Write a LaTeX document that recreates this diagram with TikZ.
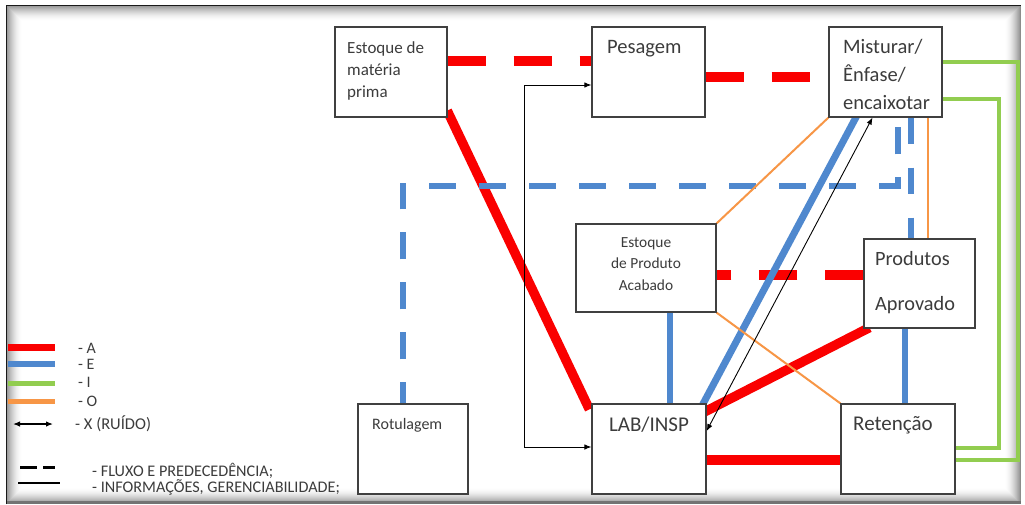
\documentclass[tikz,border=0pt]{standalone}
\usepackage{fontspec}
\setmainfont{Carlito}
\usetikzlibrary{calc,arrows.meta}
\definecolor{cA}{RGB}{250,0,0}
\definecolor{cE}{RGB}{79,136,206}
\definecolor{cI}{RGB}{146,205,80}
\definecolor{cO}{RGB}{247,150,70}
\definecolor{txt}{RGB}{60,60,60}
\pgfdeclarelayer{frame}
\pgfdeclarelayer{links}
\pgfsetlayers{frame,links,main}
\newcommand{\fs}[1]{\fontsize{#1}{#1}\selectfont}
\begin{document}
\begin{tikzpicture}[x=1pt,y=-1pt,
  box/.style={draw=black!75,line width=1.2pt,fill=white,inner sep=0pt},
  lbl/.style={inner sep=0pt,text=txt},
  lA/.style={cA,line width=9.5pt},
  lAd/.style={lA,dash pattern=on 38pt off 28pt},
  lE/.style={cE,line width=6pt},
  lEd/.style={lE,dash pattern=on 27pt off 23pt,dash phase=6pt},
  lI/.style={cI,line width=4pt},
  lO/.style={cO,line width=2pt},
  tip/.style={{Latex[length=7pt,width=5.5pt]}-{Latex[length=7pt,width=5.5pt]}},
  lX/.style={black,line width=0.9pt,tip}]
\useasboundingbox (0,0) rectangle (1025,504);

% boxes
\node[box,minimum width=112pt,minimum height=90pt] (mp)  at (391,72) {};
\node[box,minimum width=113pt,minimum height=90pt] (pes) at (648.5,72) {};
\node[box,minimum width=113pt,minimum height=90pt] (mis) at (885.5,72) {};
\node[box,minimum width=140pt,minimum height=88pt] (epa) at (646,268) {};
\node[box,minimum width=111pt,minimum height=89pt] (pa)  at (919.5,283.5) {};
\node[box,minimum width=110pt,minimum height=90pt] (rot) at (413,449) {};
\node[box,minimum width=114pt,minimum height=90pt] (lab) at (649,449) {};
\node[box,minimum width=114pt,minimum height=90pt] (ret) at (898,449) {};

% box texts
\node[lbl,font=\fs{17},anchor=base west] (mp1) at (347,53) {Estoque de};
\node[lbl,font=\fs{17},anchor=base west] (mp2) at (347,75) {matéria};
\node[lbl,font=\fs{17},anchor=base west] (mp3) at (347,97) {prima};
\node[lbl,font=\fs{20.5},anchor=base west] (pes1) at (607,53) {Pesagem};
\node[lbl,font=\fs{20.5},anchor=base west] (mis1) at (843,53) {Misturar/};
\node[lbl,font=\fs{20.5},anchor=base west] (mis2) at (843,81) {Ênfase/};
\node[lbl,font=\fs{20.5},anchor=base west] (mis3) at (843,109) {encaixotar};
\node[lbl,font=\fs{15.4},anchor=base] (epa1) at (646,247) {Estoque};
\node[lbl,font=\fs{15.4},anchor=base] (epa2) at (646,268) {de Produto};
\node[lbl,font=\fs{15.4},anchor=base] (epa3) at (646,290) {Acabado};
\node[lbl,font=\fs{20.3},anchor=base west] (pa1) at (875,265) {Produtos};
\node[lbl,font=\fs{20.3},anchor=base west] (pa2) at (875,310) {Aprovado};
\node[lbl,font=\fs{16},anchor=base west] (rot1) at (372,429) {Rotulagem};
\node[lbl,font=\fs{21},anchor=base] (lab1) at (649,431) {LAB/INSP};
\node[lbl,font=\fs{21},anchor=base west] (ret1) at (853,430) {Retenção};

% legend texts
\node[lbl,font=\fs{16},anchor=base west] (lg1) at (78,353) {- A};
\node[lbl,font=\fs{16},anchor=base west] (lg2) at (78,369) {- E};
\node[lbl,font=\fs{16},anchor=base west] (lg3) at (78,387) {- I};
\node[lbl,font=\fs{16},anchor=base west] (lg4) at (78,406) {- O};
\node[lbl,font=\fs{16.5},anchor=base west] (lg5) at (75,429) {- X (RUÍDO)};
\node[lbl,font=\fs{16.2},anchor=base west] (lg6) at (92,476) {- FLUXO E PREDECEDÊNCIA;};
\node[lbl,font=\fs{16.2},anchor=base west] (lg7) at (92,492) {- INFORMAÇÕES, GERENCIABILIDADE;};

\begin{pgfonlayer}{frame}
  \fill[white] (0,0) rectangle (1025,504);
  \foreach \k in {1,...,16} {
    \pgfmathsetmacro\op{0.26*(1-\k/17)^2}
    \draw[black,opacity=\op,line width=1.05pt] (6+\k,5+\k) rectangle (1021-\k,504-\k);
  }
  \draw[black!45,line width=1.4pt] (1020.5,5.5) -- (1020.5,504);
  \draw[black!55,line width=3pt] (6.5,502.5) -- (1021,502.5);
  \draw[black!90,line width=1.8pt] (6.5,504) -- (6.5,5.5) -- (1020.5,5.5);
\end{pgfonlayer}

\begin{pgfonlayer}{links}
  % A (red)
  \draw[lAd] ($(mp.east)+(0,-11)$) -- ($(pes.west)+(0,-11)$);
  \draw[lAd] ($(pes.east)+(0,5)$) -- ($(mis.west)+(0,5)$);
  \draw[lAd] ($(pa.west)+(0,-8.5)$) -- ($(epa.east)+(0,7)$);
  \draw[lA] ($(mp.south east)+(-0.4,-7)$) -- ($(lab.north west)+(-2,6)$);
  \draw[lA] ($(lab.north east)+(-5,10)$) -- ($(pa.south west)+(6,-1)$);
  \draw[lA] ($(lab.east)+(0,11)$) -- ($(ret.west)+(0,11)$);
  % E (blue)
  \draw[lE] ($(epa.south)+(24,0)$) -- ($(lab.north)+(21,0)$);
  \draw[lE] ($(pa.south)+(-15,0)$) -- ($(ret.north)+(6.5,0)$);
  \draw[lE,line width=7pt] ($(lab.north east)+(-6,5)$) -- ($(mis.south)+(-27,-5)$);
  \draw[lEd] ($(rot.north)+(-10,0)$) |- ($(mis.south)+(12.5,68)$) -- ($(mis.south)+(12.5,0)$);
  \draw[lE,dash pattern=on 26pt off 24pt] ($(mis.south)+(25.5,0)$) -- ($(pa.north)+(-8.5,0)$);
  % I (green)
  \draw[lI] ($(mis.east)+(0,-10)$) -| ($(ret.east)+(62,11)$) -- ($(ret.east)+(0,11)$);
  \draw[lI] ($(mis.east)+(0,27)$) -| ($(ret.east)+(43,-1)$) -- ($(ret.east)+(0,-1)$);
  % O (orange)
  \draw[lO] (mis.south west) -- (epa.north east);
  \draw[lO] ($(mis.south)+(42.5,0)$) -- ($(pa.north)+(8.5,0)$);
  \draw[lO] (epa.south east) -- (ret.north west);
  % black
  \draw[lX] ($(pes.west)+(0,13)$) -| ($(lab.west)+(-67,-2)$) -- ($(lab.west)+(0,-2)$);
  \draw[lX] ($(lab.east)+(0,-18)$) -- ($(mis.south)+(-13,0)$);
  % legend samples
  \draw[lA,line width=7pt] (8,347) -- (55,347);
  \draw[lE] (8,364) -- (55,364);
  \draw[lI,line width=5pt] (8,383) -- (55,383);
  \draw[lO,line width=5pt] (8,401) -- (55,401);
  \draw[black,line width=1.2pt,tip] (13,424) -- (53,424);
  \draw[black,line width=3pt,dash pattern=on 17pt off 6pt] (20,467) -- (55,467);
  \draw[black,line width=2.5pt] (18,483) -- (60,483);
\end{pgfonlayer}
\end{tikzpicture}
\end{document}
